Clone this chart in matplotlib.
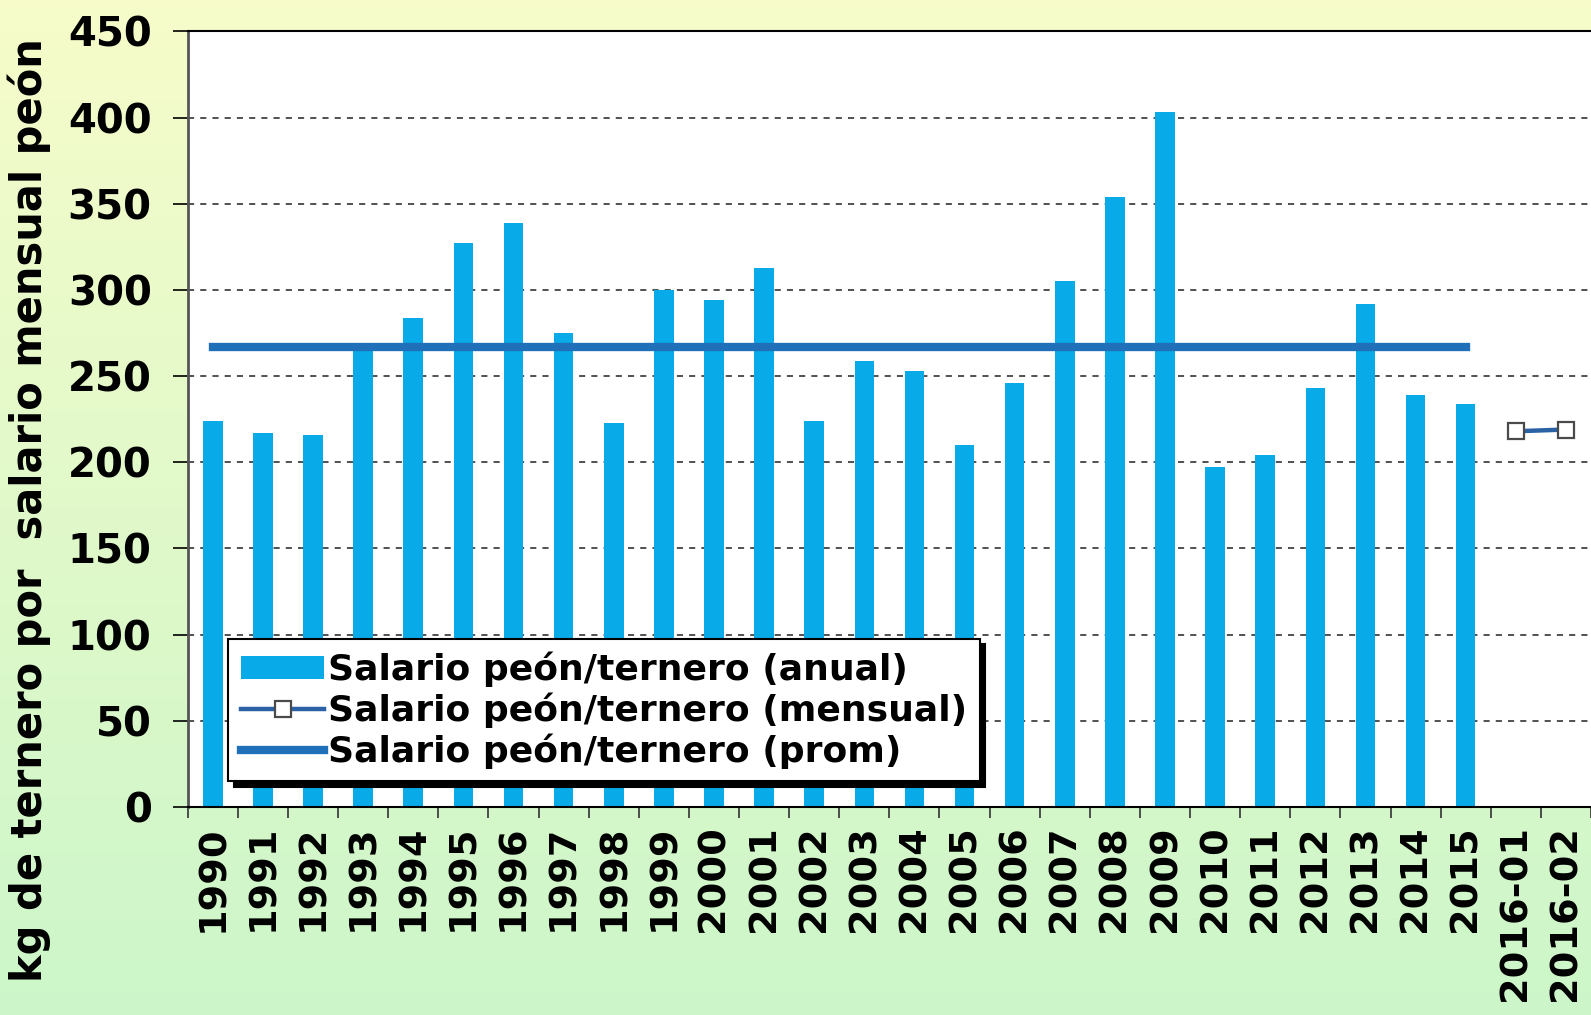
import matplotlib.pyplot as plt
import numpy as np

categories = ['1990', '1991', '1992', '1993', '1994', '1995', '1996', '1997',
              '1998', '1999', '2000', '2001', '2002', '2003', '2004', '2005',
              '2006', '2007', '2008', '2009', '2010', '2011', '2012', '2013',
              '2014', '2015', '2016-01', '2016-02']
anual = [224, 217, 216, 267, 284, 327, 339, 275, 223, 300, 294, 313, 224,
         259, 253, 210, 246, 305, 354, 403, 197, 204, 243, 292, 239, 234]
mensual_cats = ['2016-01', '2016-02']
mensual = [218, 219]
prom = 267

BAR = '#08aae8'
PROM = '#1f70b8'
MENS = '#2a62a5'

plt.rcParams['font.family'] = 'DejaVu Sans'
fig = plt.figure(figsize=(15.91, 10.15), dpi=100)

# background gradient (yellow at top -> green at bottom)
bg = fig.add_axes([0, 0, 1, 1], zorder=-10)
top = np.array([0.965, 0.988, 0.79])
bot = np.array([0.80, 0.965, 0.79])
t = np.linspace(0, 1, 200)[:, None]
grad = top[None, :] * (1 - t) + bot[None, :] * t
bg.imshow(np.repeat(grad[:, None, :], 2, axis=1), aspect='auto', extent=[0, 1, 0, 1])
bg.axis('off')

ax = fig.add_axes([0.118, 0.205, 0.882, 0.764])
x = np.arange(len(categories))
h_bar = ax.bar(x[:len(anual)], anual, width=0.39, color=BAR, zorder=2,
               label='Salario peón/ternero (anual)')
xm = [categories.index(c) for c in mensual_cats]
h_mens, = ax.plot(xm, mensual, color=MENS, lw=3.2, marker='s', ms=12, mfc='white',
                  mec='#4a4a4a', mew=1.6, zorder=4,
                  label='Salario peón/ternero (mensual)')
h_prom, = ax.plot([0, len(anual) - 1], [prom, prom], color=PROM, lw=6,
                  solid_capstyle='projecting', zorder=3,
                  label='Salario peón/ternero (prom)')

ax.set_xlim(-0.5, len(categories) - 0.5)
ax.set_ylim(0, 450)
ax.set_yticks(np.arange(0, 451, 50))
ax.set_yticklabels([str(v) for v in range(0, 451, 50)], fontsize=29, fontweight='bold')
ax.set_xticks(x)
ax.set_xticklabels(categories, rotation=90, fontsize=27.5, fontweight='bold')
ax.set_xticks(np.arange(-0.5, len(categories), 1.0), minor=True)
ax.tick_params(axis='x', which='major', length=0, pad=13)
ax.tick_params(axis='x', which='minor', length=8, width=1.2, color='#333333')
ax.tick_params(axis='y', length=11, width=1.2, pad=15)
ax.yaxis.grid(True, linestyle=(0, (4, 4)), color='#222222', lw=1.1, zorder=0)
ax.set_axisbelow(True)
ax.spines['right'].set_visible(False)
ax.spines['left'].set_color('#555555')
ax.spines['left'].set_linewidth(2)
ax.spines['top'].set_linewidth(1.5)
ax.spines['bottom'].set_linewidth(1.5)

ax.set_ylabel('kg de ternero por  salario mensual peón', fontsize=30,
              fontweight='bold', va='center')
ax.yaxis.set_label_coords(-0.113, 0.383)

leg = ax.legend([h_bar, h_mens, h_prom],
                [h.get_label() for h in (h_bar, h_mens, h_prom)],
                loc='upper left', bbox_to_anchor=(0.029, 0.217), fancybox=False,
                shadow={'color': 'black', 'alpha': 1, 'ox': 4, 'oy': -4},
                framealpha=1, edgecolor='black', prop={'size': 26, 'weight': 'bold'},
                handlelength=2.3, handleheight=0.6, handletextpad=0.1,
                labelspacing=0.15, borderpad=0.35, borderaxespad=0)
leg.get_frame().set_linewidth(1.5)
leg.set_zorder(10)

fig.savefig('out.png', dpi=100)
